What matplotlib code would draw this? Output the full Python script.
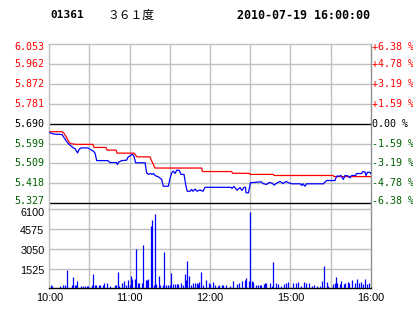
import matplotlib
matplotlib.use('Agg')
import matplotlib.pyplot as plt
import matplotlib.transforms as mtransforms

# ---------------- data ----------------
stock_code = "01361"
stock_name = "３６１度"
stamp = "2010-07-19 16:00:00"
prev_close = 5.690

price_ticks = [6.053, 5.962, 5.872, 5.781, 5.690, 5.599, 5.509, 5.418, 5.327]
pct_labels = ["+6.38 %", "+4.78 %", "+3.19 %", "+1.59 %", "0.00 %",
              "-1.59 %", "-3.19 %", "-4.78 %", "-6.38 %"]
vol_ticks = [6100, 4575, 3050, 1525]
time_labels = ["10:00", "11:00", "12:00", "15:00", "16:00"]
time_label_pos = [0, 60, 120, 180, 240]

# price (blue) - minute index from 10:00 (trading minutes), price
price_t = [0.5, 3.5, 9.5, 11.0, 13.0, 14.7, 17.9, 19.2, 21.1, 22.2, 23.7, 28.7,
           32.9, 34.1, 35.4, 43.8, 45.3, 50.2, 50.8, 52.0, 54.1, 57.8, 58.8, 60.3,
           61.5, 62.5, 63.2, 64.5, 71.5, 72.7, 73.9, 75.7, 76.7, 77.8, 78.9, 81.4,
           83.9, 85.1, 88.9, 90.1, 91.4, 92.6, 93.9, 95.1, 97.1, 98.3, 100.6, 102.1,
           103.0, 105.1, 106.2, 107.3, 108.8, 110.3, 112.5, 114.8, 116.3, 135.7, 136.4,
           137.9, 140.2, 142.4, 143.9, 145.4, 146.5, 146.9, 148.7, 150.2, 154.3, 158.4,
           159.6, 162.3, 164.1, 166.3, 168.0, 169.3, 172.3, 174.5, 176.7, 179.0, 181.2,
           187.6, 188.5, 189.4, 190.9, 192.1, 204.6, 207.1, 213.3, 214.6, 216.5, 217.8,
           219.5, 220.8, 223.0, 224.5, 225.8, 228.8, 229.4, 233.3, 233.9, 235.7, 236.5,
           237.6, 239.5, 240.0]
price_v = [5.649, 5.643, 5.641, 5.627, 5.609, 5.596, 5.580, 5.577, 5.557, 5.573, 5.580, 5.580,
           5.565, 5.557, 5.522, 5.522, 5.513, 5.513, 5.504, 5.516, 5.522, 5.524, 5.538, 5.543,
           5.550, 5.548, 5.541, 5.512, 5.512, 5.466, 5.459, 5.463, 5.459, 5.463, 5.454, 5.448,
           5.436, 5.405, 5.405, 5.439, 5.466, 5.474, 5.463, 5.478, 5.477, 5.459, 5.459, 5.405,
           5.382, 5.382, 5.390, 5.382, 5.392, 5.382, 5.388, 5.382, 5.400, 5.400, 5.395,
           5.404, 5.387, 5.399, 5.386, 5.400, 5.400, 5.375, 5.375, 5.421, 5.423, 5.425,
           5.417, 5.413, 5.422, 5.419, 5.410, 5.417, 5.427, 5.417, 5.427, 5.420, 5.416,
           5.416, 5.408, 5.416, 5.405, 5.416, 5.416, 5.431, 5.431, 5.451, 5.451, 5.454,
           5.436, 5.454, 5.452, 5.443, 5.454, 5.454, 5.463, 5.463, 5.471, 5.471, 5.454,
           5.469, 5.468, 5.463]

# average price (red)
avg_t = [0.5, 9.5, 11.0, 12.5, 14.0, 15.5, 19.9, 32.6, 33.4, 42.3, 43.1, 49.8, 50.6,
         63.2, 65.5, 75.2, 75.9, 77.4, 78.9, 113.8, 114.4, 136.2, 136.8, 149.3, 149.9,
         167.3, 167.8, 212.1, 212.6, 240.0]
avg_v = [5.654, 5.654, 5.646, 5.632, 5.614, 5.600, 5.596, 5.596, 5.582, 5.582, 5.570, 5.570, 5.556,
         5.556, 5.539, 5.539, 5.527, 5.509, 5.488, 5.488, 5.472, 5.472, 5.464, 5.464, 5.459,
         5.459, 5.454, 5.454, 5.449, 5.449]

# volume bars
vol_t = [1, 2, 8, 10, 12, 13, 17, 18, 19, 20, 21, 24, 25, 27, 28, 29, 32, 33, 34, 35, 37, 38,
         40, 41, 43, 45, 49, 50, 51, 52, 54, 56, 57, 59, 60, 61, 62, 64, 65, 66, 67, 69, 70,
         72, 73, 74, 76, 77, 78, 79, 80, 82, 83, 85, 86, 87, 89, 90, 91, 92, 94, 95, 96, 98,
         100, 101, 102, 103, 104, 106, 107, 109, 110, 111, 112, 113, 115, 117, 119, 120, 122,
         124, 126, 127, 129, 130, 132, 135, 137, 140, 142, 144, 146, 147, 149, 150, 151, 152,
         154, 156, 157, 158, 160, 161, 162, 165, 166, 167, 169, 171, 173, 175, 177, 178, 182,
         184, 186, 188, 190, 192, 194, 196, 198, 200, 202, 204, 205, 207, 208, 212, 213, 214,
         215, 217, 218, 220, 221, 223, 224, 226, 228, 230, 231, 233, 234, 236, 237, 239]
vol_v = [230, 180, 150, 230, 230, 1415, 255, 875, 255, 255, 565, 180, 180, 180, 180, 180, 255, 1105,
         230, 230, 230, 255, 255, 410, 410, 200, 230, 230, 1260, 150, 410, 565, 255, 640, 255, 950,
         720, 720, 3035, 385, 385, 385, 3345, 640, 620, 720, 4810, 5275, 255, 5740, 330, 950, 255,
         255, 2830, 255, 230, 255, 1180, 330, 330, 330, 330, 385, 255, 1105, 640, 2110, 950, 255,
         385, 385, 385, 330, 465, 1290, 255, 620, 405, 355, 490, 230, 180, 275, 275, 275, 275,
         180, 565, 330, 430, 565, 640, 760, 565, 5915, 565, 490, 255, 255, 255, 255, 330, 385,
         385, 385, 200, 2055, 385, 310, 180, 330, 405, 510, 405, 385, 510, 200, 465, 385, 385,
         200, 255, 180, 200, 565, 1720, 490, 180, 330, 385, 895, 385, 310, 565, 310, 385, 510,
         385, 640, 385, 695, 385, 465, 330, 720, 310, 385]

# ---------------- layout ----------------
W, H = 414, 314
fig = plt.figure(figsize=(W / 100, H / 100), dpi=100)
fig.patch.set_facecolor('white')


def fx(px):
    return px / W


def fy(py):
    return 1 - py / H


L, R = 49.3, 370.7
main_top, main_bot, vol_top, vol_bot = 44.3, 203.3, 209.3, 288.3

RED = '#ff0000'
GREEN = '#006000'
GRID = '#c0c0c0'
BLUE = '#0000ff'

ymax, ymin_line = price_ticks[0], price_ticks[-1]
px_per = (main_bot - main_top) / (ymax - ymin_line)
ylow = ymin_line - (vol_top - main_bot) / px_per

ax = fig.add_axes([fx(L), fy(vol_top), fx(R) - fx(L), fy(main_top) - fy(vol_top)])
ax.set_xlim(0, 240)
ax.set_ylim(ylow, ymax)
ax.set_xticks([])
ax.set_yticks([])
for s in ['top', 'left']:
    ax.spines[s].set_color(GRID)
    ax.spines[s].set_linewidth(1.0)
ax.spines['right'].set_color('#909090')
ax.spines['right'].set_linewidth(1.0)
ax.spines['bottom'].set_visible(False)

for v in price_ticks[1:-1]:
    if abs(v - prev_close) < 1e-6:
        continue
    ax.axhline(v, color=GRID, lw=1.0, zorder=1)
for t in range(30, 240, 30):
    ax.axvline(t, color=GRID, lw=1.0, zorder=1)
ax.axhline(prev_close, color='black', lw=1.0, zorder=2)
ax.axhline(ymin_line, color='black', lw=1.0, zorder=2)

ax.plot(avg_t, avg_v, color=RED, lw=0.9, zorder=3)
ax.plot(price_t, price_v, color=BLUE, lw=0.9, zorder=4)

mono = 'DejaVu Sans Mono'
trans_l = mtransforms.blended_transform_factory(fig.transFigure, ax.transData)
for i, (v, pl) in enumerate(zip(price_ticks, pct_labels)):
    if v > prev_close + 1e-6:
        c = RED
    elif v < prev_close - 1e-6:
        c = GREEN
    else:
        c = 'black'
    dy = 0
    if i == 0:
        dy = -2.5
    elif i == len(price_ticks) - 1:
        dy = 2.5
    off = mtransforms.ScaledTranslation(0, dy / 100, fig.dpi_scale_trans)
    ax.text(fx(44.5), v, f"{v:.3f}", transform=trans_l + off, ha='right', va='center',
            color=c, fontsize=7.2, family=mono, clip_on=False)
    ax.text(fx(R + 1.2), v, pl, transform=trans_l + off, ha='left', va='center',
            color=c, fontsize=7.2, family=mono, clip_on=False)

# volume axes
vax = fig.add_axes([fx(L), fy(vol_bot), fx(R) - fx(L), fy(vol_top) - fy(vol_bot)])
vax.set_xlim(0, 240)
vax.set_ylim(0, vol_ticks[0])
vax.set_xticks([])
vax.set_yticks([])
for s in ['top', 'left']:
    vax.spines[s].set_color(GRID)
    vax.spines[s].set_linewidth(1.0)
vax.spines['right'].set_color('#909090')
vax.spines['right'].set_linewidth(1.0)
vax.spines['bottom'].set_color('black')
vax.spines['bottom'].set_linewidth(1.0)
for v in vol_ticks[1:]:
    vax.axhline(v, color=GRID, lw=1.0, zorder=1)
for t in range(30, 240, 30):
    vax.axvline(t, color=GRID, lw=1.0, zorder=1)
vax.vlines(vol_t, 0, vol_v, color=BLUE, lw=0.9, zorder=3)

sans = 'Liberation Sans'
trans_v = mtransforms.blended_transform_factory(fig.transFigure, vax.transData)
for i, v in enumerate(vol_ticks):
    dy = -3.7 if i == 0 else -2.0
    off = mtransforms.ScaledTranslation(0, dy / 100, fig.dpi_scale_trans)
    vax.text(fx(44.5), v, f"{v}", transform=trans_v + off, ha='right', va='center',
             color='black', fontsize=7.8, family=sans, clip_on=False)

trans_t = mtransforms.blended_transform_factory(vax.transData, fig.transFigure)
for t, lab in zip(time_label_pos, time_labels):
    vax.text(t, fy(298), lab, transform=trans_t, ha='center', va='center',
             color='black', fontsize=7.8, family=sans, clip_on=False)

# header
fig.text(fx(50), fy(15.5), stock_code, ha='left', va='center', fontsize=8,
         family=mono, weight='bold', color='black')
fig.text(fx(107), fy(15.5), stock_name, ha='left', va='center', fontsize=8.5,
         family=['Noto Sans CJK SC', 'DejaVu Sans'], color='black')
fig.text(fx(237), fy(15.5), stamp, ha='left', va='center', fontsize=8.4,
         family=mono, weight='bold', color='black')

fig.savefig('out.png', dpi=100, facecolor='white')
